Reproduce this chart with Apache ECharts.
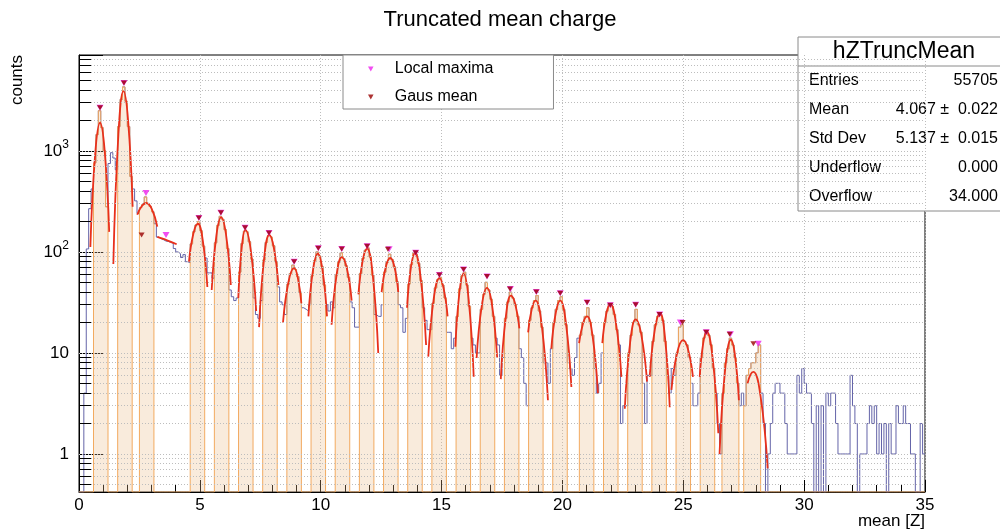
<!DOCTYPE html>
<html>
<head>
<meta charset="utf-8">
<title>Truncated mean charge</title>
<script src="https://cdn.jsdelivr.net/npm/echarts@6.0.0/dist/echarts.min.js"></script>
<style>
  html, body { margin: 0; padding: 0; background: #fff; }
  #chart { width: 1000px; height: 530px; }
</style>
</head>
<body>
<div id="chart"></div>
<script>
// hZTruncMean: bins of 0.1 from 0 to 35, one row per unit of Z
const binWidth = 0.1;
const counts = [
  0, 0, 4, 107, 268, 420, 760, 1450, 2500, 1700,
  1000, 280, 750, 960, 850, 650, 1740, 3240, 4300, 3100,
  1740, 560, 420, 320, 240, 275, 295, 350, 300, 282,
  250, 190, 140, 135, 132, 128, 127, 124, 122, 108,
  100, 96, 88, 94, 80, 78, 120, 158, 185, 200,
  162, 114, 87, 62, 62, 55, 123, 183, 225, 210,
  166, 108, 42, 36, 33, 35, 63, 121, 160, 158,
  126, 85, 35, 24, 22, 33, 83, 124, 145, 140,
  115, 80, 45, 32, 30, 24, 48, 61, 74, 67,
  57, 40, 28, 27, 26, 30, 58, 82, 100, 91,
  72, 47, 30, 26, 32, 28, 59, 79, 98, 86,
  73, 56, 32, 28, 18, 18, 61, 86, 104, 110,
  89, 59, 24, 23, 23, 30, 63, 79, 95, 84,
  71, 51, 30, 28, 16, 22, 48, 75, 97, 95,
  77, 52, 28, 21, 17, 17, 31, 44, 53, 56,
  47, 35, 16, 16, 11, 14, 23, 43, 58, 63,
  47, 29, 14, 12, 10, 10, 27, 38, 50, 42,
  34, 23, 14, 12, 6, 9, 22, 32, 40, 35,
  30, 23, 11, 9, 5, 3, 21, 28, 33, 37,
  26, 18, 8, 8, 5, 11, 20, 27, 33, 36,
  27, 19, 8, 7, 6, 9, 14, 15, 20, 23,
  28, 20, 15, 7, 4, 5, 10, 20, 26, 30,
  29, 24, 17, 12, 2, 3, 3, 10, 15, 20,
  27, 19, 16, 5, 2, 6, 6, 13, 19, 23,
  24, 21, 13, 6, 4, 7, 6, 10, 18, 19,
  13, 12, 9, 5, 3, 3, 4, 9, 14, 16,
  15, 12, 7, 4, 2, 1, 4, 8, 11, 14,
  12, 9, 5, 3, 4, 3, 6, 7, 8, 8,
  10, 12, 4, 2, 0, 1, 2, 4, 5, 5,
  4, 4, 2, 1, 1, 1, 1, 6, 4, 7,
  5, 4, 4, 2, 0, 3, 0, 3, 0, 4,
  3, 4, 4, 2, 1, 1, 1, 1, 1, 6,
  3, 2, 0, 1, 1, 1, 2, 3, 2, 3,
  1, 2, 1, 2, 0, 2, 1, 1, 3, 2,
  2, 3, 2, 2, 1, 1, 0, 0, 2, 1
];

// fit windows (highlighted in orange)
const bands = [
  [0.6, 1.2], [1.6, 2.2], [2.5, 3.1], [4.6, 5.2], [5.6, 6.2], [6.6, 7.2], [7.6, 8.2],
  [8.6, 9.2], [9.6, 10.2], [10.6, 11.2], [11.6, 12.2], [12.6, 13.2], [13.6, 14.2],
  [14.6, 15.2], [15.6, 16.2], [16.6, 17.2], [17.6, 18.2], [18.6, 19.2], [19.6, 20.2],
  [20.7, 21.3], [21.7, 22.3], [22.7, 23.3], [23.7, 24.3], [24.7, 25.3], [25.7, 26.3],
  [26.6, 27.3], [27.5, 28.2]
];

// gaussian fits, points
const fits = [
  [[0.47, 112], [0.67, 935], [0.87, 1900], [1.06, 1020], [1.25, 158]],
  [[1.42, 76], [1.63, 1455], [1.84, 3900], [2.03, 2020], [2.22, 280]],
  [[2.41, 233], [2.6, 285], [2.78, 305], [3.01, 267], [3.24, 178]],
  [[3.24, 141], [3.43, 136], [3.62, 131], [3.83, 125], [4.04, 119]],
  [[4.55, 80], [4.735, 153], [4.92, 190], [5.115, 133], [5.31, 45]],
  [[5.49, 42], [5.685, 146], [5.88, 220], [6.08, 150], [6.28, 47]],
  [[6.59, 35], [6.735, 112], [6.88, 165], [7.105, 104], [7.33, 26]],
  [[7.45, 18], [7.66, 87], [7.87, 147], [8.06, 110], [8.25, 47]],
  [[8.44, 20], [8.67, 51], [8.9, 69], [9.05, 56], [9.2, 31]],
  [[9.49, 23], [9.685, 67], [9.88, 96], [10.07, 67], [10.26, 23]],
  [[10.45, 19], [10.66, 60], [10.87, 89], [11.075, 70], [11.28, 33]],
  [[11.56, 38], [11.74, 83], [11.92, 108], [12.15, 60], [12.38, 10]],
  [[12.52, 40], [12.7, 72], [12.88, 87], [13.045, 72], [13.21, 40]],
  [[13.57, 28], [13.735, 71], [13.9, 97], [14.13, 57], [14.36, 12]],
  [[14.45, 9.2], [14.68, 35], [14.91, 55], [15.08, 44], [15.25, 23]],
  [[15.57, 11.5], [15.74, 40], [15.91, 61], [16.12, 34], [16.33, 5.8]],
  [[16.45, 8.9], [16.665, 29.5], [16.88, 44], [17.09, 29.6], [17.3, 9]],
  [[17.45, 5.5], [17.66, 23], [17.87, 37], [18.045, 30.7], [18.22, 17.5]],
  [[18.58, 16], [18.735, 27.5], [18.89, 33], [19.145, 18.7], [19.4, 3.4]],
  [[19.54, 11], [19.725, 25], [19.91, 33], [20.14, 20.2], [20.37, 4.6]],
  [[20.69, 12.5], [20.855, 19.7], [21.02, 23], [21.245, 14.8], [21.47, 4]],
  [[21.65, 12.5], [21.815, 24.4], [21.98, 30.5], [22.21, 20.1], [22.44, 5.8]],
  [[22.58, 2.8], [22.805, 12.9], [23.03, 21.5], [23.265, 15.1], [23.5, 5.2]],
  [[23.61, 5.8], [23.825, 17.2], [24.04, 24.7], [24.24, 14.5], [24.44, 2.9]],
  [[24.51, 4.3], [24.75, 10.1], [24.99, 13.4], [25.195, 10.9], [25.4, 5.8]],
  [[25.68, 5.8], [25.825, 12.5], [25.97, 16.2], [26.21, 9.1], [26.45, 1.6]],
  [[26.5, 1.0], [26.735, 7.0], [26.97, 13.5], [27.135, 9.6], [27.3, 3.4]],
  [[27.66, 5], [27.78, 6.1], [27.9, 6.5], [28.195, 3.75], [28.49, 0.72]]
];

const localMaxX = [0.87, 1.86, 2.77, 3.6, 4.96, 5.87, 6.87, 7.86, 8.9, 9.9, 10.87, 11.92, 12.83, 13.93,
  14.91, 15.91, 16.88, 17.85, 18.92, 19.91, 21.02, 21.98, 23.03, 24.02, 24.88, 25.95, 26.95, 28.1];
const localMaxY = [2680, 4700, 383, 147, 217, 244, 173, 154, 80, 109, 107, 114, 106, 98,
  59, 67, 57, 43, 40, 39, 31.5, 29.6, 30, 24, 20, 16, 15.3, 12.3];
const gausMeanX = [0.87, 1.86, 2.59, 4.96, 5.87, 6.87, 7.86, 8.9, 9.9, 10.87, 11.92, 12.78, 13.93,
  14.91, 15.91, 16.88, 17.83, 18.92, 19.91, 21.02, 21.98, 23.03, 24.02, 24.97, 25.95, 26.92, 27.9];
const gausMeanY = [2680, 4700, 147, 217, 244, 173, 154, 80, 109, 107, 114, 106, 98,
  59, 67, 57, 43, 40, 39, 31.5, 29.6, 30, 24, 20, 16, 15.3, 12.3];

const statRows = [
  ['Entries', '55705'],
  ['Mean', '4.067 \u00b1  0.022'],
  ['Std Dev', '5.137 \u00b1  0.015'],
  ['Underflow', '0.000'],
  ['Overflow', '34.000']
];

const Y_MIN = 0.42;
const Y_MAX = 8900;
const FONT = "'Liberation Sans', Arial, Helvetica, sans-serif";
const TRI = 'path://M0,0L10,0L5,9Z';

const binX = i => Math.round(i * binWidth * 10) / 10;
const inBand = v => bands.some(b => v >= b[0] - 1e-6 && v < b[1] - 1e-6);

const histData = counts.map((c, i) => [binX(i), c > 0 ? c : Y_MIN]);
histData.push([35, counts[counts.length - 1] || Y_MIN]);
const bandData = counts.map((c, i) => [binX(i), inBand(binX(i)) && c > 0 ? c : Y_MIN]);
bandData.push([35, Y_MIN]);

// log grid: every 1..9 x decade inside the axis range
const gridValues = [];
[0.1, 1, 10, 100, 1000].forEach(d => {
  for (let m = 1; m <= 9; m++) {
    const v = Math.round(m * d * 1000) / 1000;
    if (v > Y_MIN && v < Y_MAX) gridValues.push(v);
  }
});
const minorValues = gridValues.filter(v => Math.abs(Math.log10(v) - Math.round(Math.log10(v))) > 1e-6);

const chart = echarts.init(document.getElementById('chart'));

const fitSeries = fits.map(f => ({
  type: 'line',
  data: f,
  smooth: 0.45,
  symbol: 'none',
  z: 4,
  silent: true,
  lineStyle: { color: '#e8301c', width: 1.8 }
}));

chart.setOption({
  animation: false,
  backgroundColor: '#fff',
  textStyle: { fontFamily: FONT },
  title: {
    text: 'Truncated mean charge',
    left: 'center',
    top: 4,
    textStyle: { fontFamily: FONT, fontSize: 22, fontWeight: 'normal', color: '#000' }
  },
  legend: {
    data: [
      { name: 'Local maxima', icon: TRI },
      { name: 'Gaus mean', icon: TRI }
    ],
    orient: 'vertical',
    left: 343,
    top: 55,
    padding: [6, 60, 4, 25],
    itemWidth: 38,
    itemHeight: 5,
    itemGap: 12,
    backgroundColor: '#fff',
    borderColor: '#8a8a8a',
    borderWidth: 1,
    borderRadius: 0,
    selectedMode: false,
    textStyle: { fontFamily: FONT, fontSize: 16, color: '#000' },
    z: 10
  },
  grid: {
    left: 79, right: 75, top: 55, bottom: 38,
    containLabel: false,
    outerBoundsMode: 'none',
    show: true,
    borderColor: '#000',
    borderWidth: 1,
    backgroundColor: '#fff'
  },
  xAxis: {
    type: 'value',
    min: 0,
    max: 35,
    interval: 5,
    axisLine: { show: true, lineStyle: { color: '#000', width: 1 } },
    axisTick: { show: true, inside: true, length: 12, lineStyle: { color: '#000' } },
    minorTick: { show: true, splitNumber: 5, length: 7, lineStyle: { color: '#000' } },
    axisLabel: { fontFamily: FONT, fontSize: 17, color: '#000', margin: 5 },
    splitLine: { show: true, lineStyle: { color: '#bdbdbd', type: [1, 2], width: 1 } },
    minorSplitLine: { show: false }
  },
  yAxis: {
    type: 'log',
    logBase: 10,
    min: Y_MIN,
    max: Y_MAX,
    splitNumber: 4,
    axisLine: { show: true, lineStyle: { color: '#000', width: 1 } },
    axisTick: { show: true, inside: true, length: 24, lineStyle: { color: '#000' } },
    minorTick: { show: false },
    splitLine: { show: false },
    axisLabel: {
      margin: 10,
      color: '#000',
      fontFamily: FONT,
      fontSize: 17,
      formatter: v => {
        const l = Math.log10(v);
        const e = Math.round(l);
        if (Math.abs(l - e) > 1e-4 || e < 0) return '';
        if (e === 0) return '1';
        if (e === 1) return '10';
        return '{b|10}{s|' + e + '}';
      },
      rich: {
        b: { fontFamily: FONT, fontSize: 17, color: '#000', lineHeight: 24 },
        s: { fontFamily: FONT, fontSize: 12, color: '#000', verticalAlign: 'top', lineHeight: 24 }
      }
    }
  },
  series: [
    {
      // grid lines and minor log ticks
      type: 'line',
      data: [[0, Y_MIN]],
      symbol: 'none',
      silent: true,
      z: 1,
      lineStyle: { opacity: 0 },
      markLine: {
        silent: true,
        symbol: 'none',
        animation: false,
        label: { show: false },
        data: gridValues.map(v => ({
          yAxis: v,
          lineStyle: { color: '#bdbdbd', type: [1, 2], width: 1 }
        })).concat(minorValues.map(v => [
          { coord: [0, v], lineStyle: { color: '#000', type: 'solid', width: 1 } },
          { coord: [0.5, v] }
        ]))
      }
    },
    {
      name: 'hZTruncMean',
      type: 'line',
      data: histData,
      step: 'end',
      symbol: 'none',
      silent: true,
      z: 2,
      lineStyle: { color: '#6464a8', width: 1 }
    },
    {
      name: 'fit windows',
      type: 'line',
      data: bandData,
      step: 'end',
      symbol: 'none',
      silent: true,
      z: 3,
      lineStyle: { color: '#f2aa60', width: 1 },
      areaStyle: { color: 'rgba(236, 186, 136, 0.42)' }
    },
    ...fitSeries,
    {
      name: 'Local maxima',
      type: 'scatter',
      data: localMaxX.map((v, i) => [v, localMaxY[i]]),
      symbol: TRI,
      symbolSize: [7, 6],
      z: 5,
      itemStyle: { color: '#ee22ee' }
    },
    {
      name: 'Gaus mean',
      type: 'scatter',
      data: gausMeanX.map((v, i) => [v, gausMeanY[i]]),
      symbol: TRI,
      symbolSize: [6, 5],
      z: 6,
      itemStyle: { color: '#990000' }
    }
  ],
  graphic: [
    {
      type: 'text',
      x: 17, y: 80,
      rotation: Math.PI / 2,
      style: { text: 'counts', fontFamily: FONT, fontSize: 17, fill: '#000', align: 'center', verticalAlign: 'middle' }
    },
    {
      type: 'text',
      x: 925, y: 521,
      style: { text: 'mean [Z]', fontFamily: FONT, fontSize: 17, fill: '#000', align: 'right', verticalAlign: 'middle' }
    },
    {
      type: 'group',
      z: 20,
      children: [
        {
          type: 'rect',
          shape: { x: 798, y: 37, width: 210, height: 174 },
          style: { fill: '#fff', stroke: '#8a8a8a', lineWidth: 1 }
        },
        {
          type: 'line',
          shape: { x1: 798, y1: 66, x2: 1000, y2: 66 },
          style: { stroke: '#8a8a8a', lineWidth: 1 }
        },
        {
          type: 'text',
          x: 904, y: 52,
          style: { text: 'hZTruncMean', fontFamily: FONT, fontSize: 23, fill: '#000', align: 'center', verticalAlign: 'middle' }
        },
        ...statRows.flatMap((r, i) => [
          {
            type: 'text',
            x: 809, y: 81 + i * 29,
            style: { text: r[0], fontFamily: FONT, fontSize: 16, fill: '#000', align: 'left', verticalAlign: 'middle' }
          },
          {
            type: 'text',
            x: 998, y: 81 + i * 29,
            style: { text: r[1], fontFamily: FONT, fontSize: 16, fill: '#000', align: 'right', verticalAlign: 'middle' }
          }
        ])
      ]
    }
  ]
});
</script>
</body>
</html>
